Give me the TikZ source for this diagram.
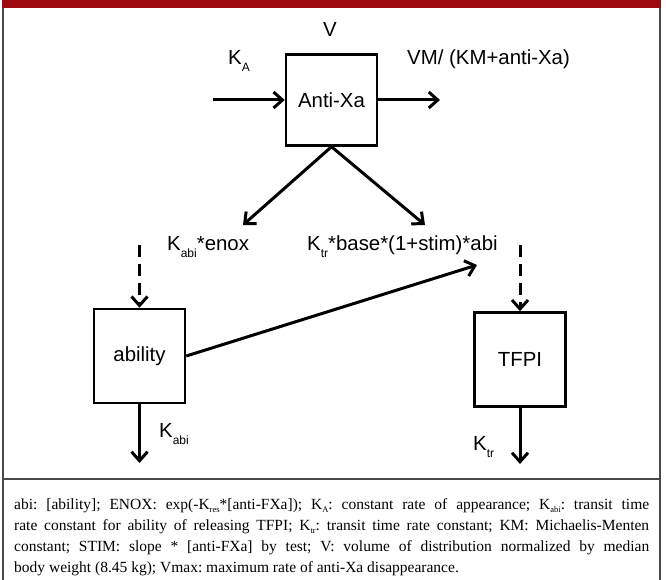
\documentclass[tikz,border=0pt]{standalone}
\usepackage{fontspec}
\setmainfont{Liberation Serif}
\newfontfamily\diagfont{Liberation Sans}
\usetikzlibrary{arrows.meta}
\newcommand{\dsub}[1]{\raisebox{-7pt}{\fontsize{12}{12}\selectfont #1}}
\newcommand{\csub}[1]{\raisebox{-3pt}{\fontsize{8.5}{8.5}\selectfont #1}}
\definecolor{barred}{HTML}{9E0A10}
\definecolor{framegray}{HTML}{4A4A4A}
\begin{document}
\begin{tikzpicture}[x=1pt,y=-1pt,
  box/.style={draw, line width=2.5pt, minimum width=91pt, inner sep=0pt, font=\diagfont\fontsize{20.4}{24}\selectfont},
  lab/.style={inner sep=0pt, font=\diagfont\fontsize{20.4}{24}\selectfont},
  arr/.style={line width=3pt, -{Straight Barb[length=9pt,width=16pt]}},
  dsh/.style={dash pattern=on 12pt off 7pt},
  frame/.style={draw=framegray, line width=1.5pt}]
\useasboundingbox (0,0) rectangle (666,580);
\fill[barred] (2,0) rectangle (661,8);
\draw[frame] (3,8) -- (3,580);
\draw[frame] (660,8) -- (660,580);
\draw[frame] (3,479) -- (660,479);

\node[box, minimum height=91pt] (ax) at (331.5,100) {Anti-Xa};
\node[box, minimum height=94pt] (ab) at (139.5,356) {ability};
\node[box, minimum height=94pt] (tf) at (520,359.5) {TFPI};

\coordinate (in) at (213,100);
\coordinate (out) at (440,100);
\coordinate (l1) at (243,225);
\coordinate (r1) at (425,225);
\coordinate (d1) at (139.5,245);
\coordinate (d2) at (520,245);
\coordinate (tip) at (477,265);
\coordinate (e1) at (139.5,463);
\coordinate (e2) at (520,464);

\draw[arr] (in) -- (ax.west);
\draw[arr] (ax.east) -- (out);
\draw[arr] (ax.south) -- (l1);
\draw[arr] (ax.south) -- (r1);
\draw[arr,dsh] (d1) -- (ab.north);
\draw[arr,dsh] (d2) -- (tf.north);
\draw[arr] (ab.east) -- (tip);
\draw[arr] (ab.south) -- (e1);
\draw[arr] (tf.south) -- (e2);

\node[lab, anchor=base] (v) at (330,37) {V};
\node[lab, anchor=base west] (ka) at (228,65) {K\dsub{A}};
\node[lab, anchor=base west] (vm) at (407,65) {VM/ (KM+anti-Xa)};
\node[lab, anchor=base west] (kenox) at (167,250) {K\dsub{abi}*enox};
\node[lab, anchor=base west] (ktr) at (307,250) {K\dsub{tr}*base*(1+stim)*abi};
\node[lab, anchor=base west] (kabi) at (159,437) {K\dsub{abi}};
\node[lab, anchor=base west] (ktr2) at (473,450) {K\dsub{tr}};

\node[anchor=base west, inner sep=0pt, text width=635pt, align=justify, font=\fontsize{15.5}{21}\selectfont] (cap) at (14,509) {\frenchspacing abi: [ability]; ENOX: exp(-K\csub{res}*[anti-FXa]); K\csub{A}: constant rate of appearance; K\csub{abi}: transit time\linebreak
rate constant for ability of releasing TFPI; K\csub{tr}: transit time rate constant; KM: Michaelis-Menten\linebreak
constant; STIM: slope * [anti-FXa] by test; V: volume of distribution normalized by median\linebreak
body weight (8.45 kg); Vmax: maximum rate of anti-Xa disappearance.};
\end{tikzpicture}
\end{document}
